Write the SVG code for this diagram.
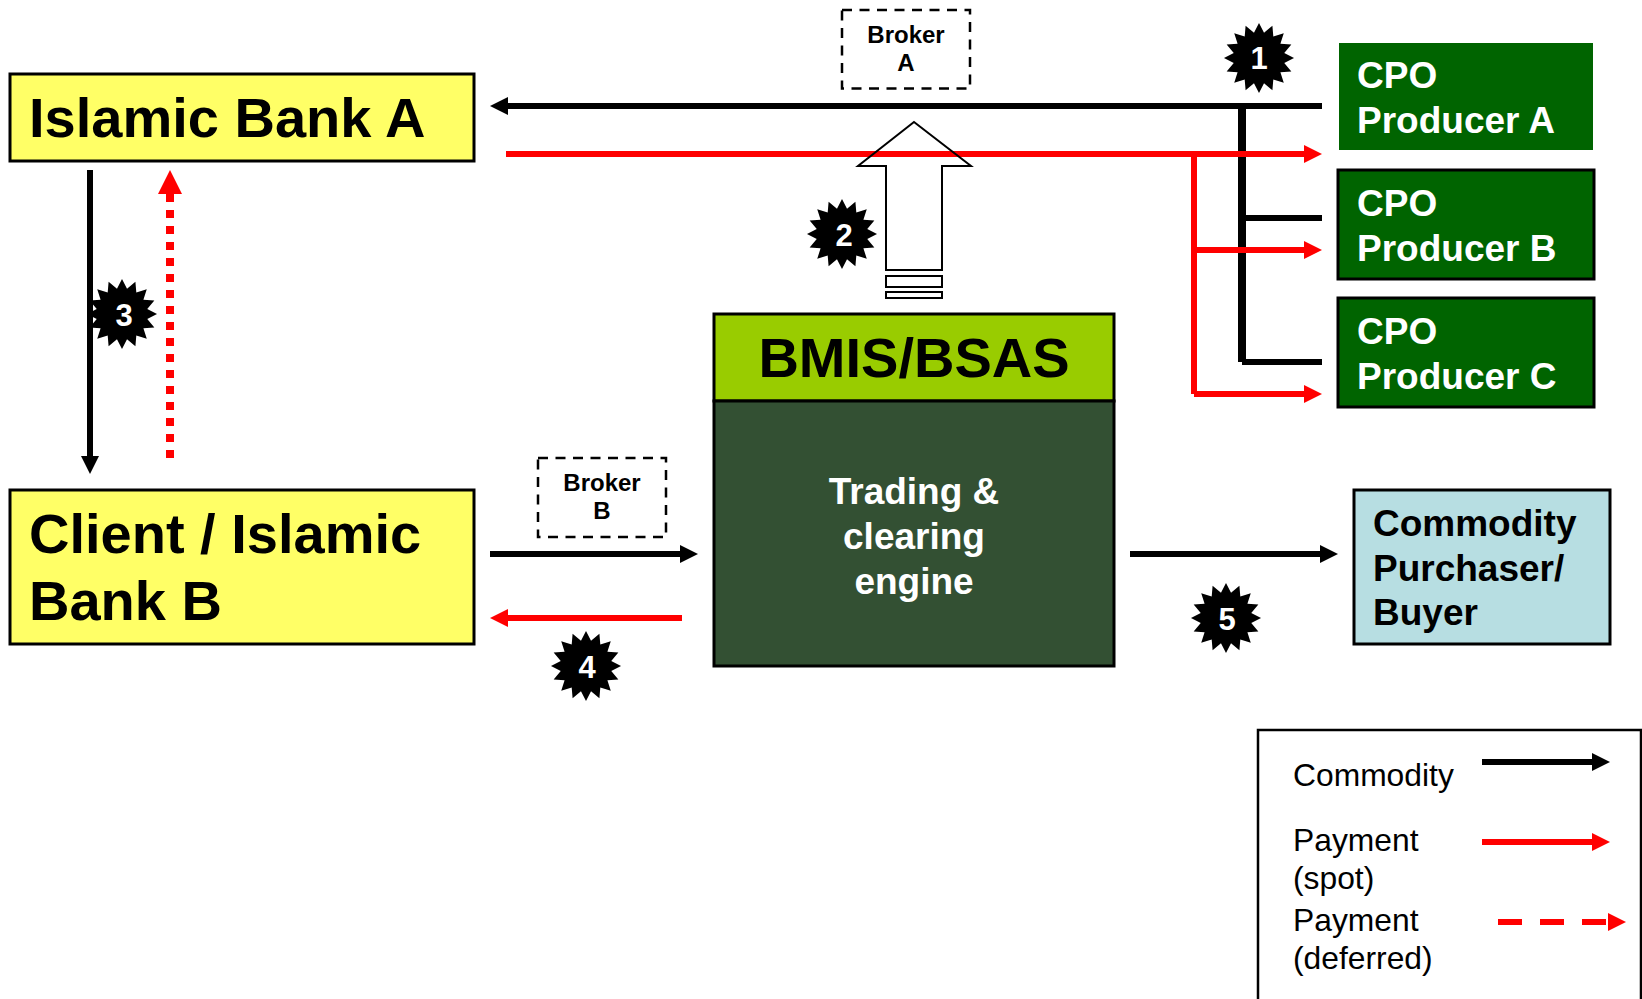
<svg xmlns="http://www.w3.org/2000/svg" width="1642" height="999" viewBox="0 0 1642 999">
<style>
text{font-family:"Liberation Sans",Arial,sans-serif;font-weight:700}
.box{stroke:#000;stroke-width:3}
.yellow{fill:#ffff66}
.green{fill:#006400}
.big{font-size:56px;fill:#000}
.mid{font-size:37px;fill:#fff}
.ink{fill:#000}
.broker{fill:none;stroke:#000;stroke-width:2.5;stroke-dasharray:10 7.5}
.bt{font-size:24px;fill:#000;text-anchor:middle}
.star{fill:#000}
.num{font-size:31px;fill:#fff;text-anchor:middle}
.k{stroke:#000;fill:none;stroke-width:6}
.r{stroke:#f00;fill:none;stroke-width:6}
.ka{marker-end:url(#headK)}
.ra{marker-end:url(#headR)}
.leg{font-size:31.8px;font-weight:400;fill:#000}
</style>
<defs>
<marker id="headK" markerUnits="userSpaceOnUse" markerWidth="18" markerHeight="18" refX="0" refY="9" orient="auto" overflow="visible"><path d="M0 0L18 9L0 18Z" fill="#000"/></marker>
<marker id="headR" markerUnits="userSpaceOnUse" markerWidth="18" markerHeight="18" refX="0" refY="9" orient="auto" overflow="visible"><path d="M0 0L18 9L0 18Z" fill="#f00"/></marker>
<marker id="headRL" markerUnits="userSpaceOnUse" markerWidth="24" markerHeight="24" refX="0" refY="12" orient="auto" overflow="visible"><path d="M0 0L24 12L0 24Z" fill="#f00"/></marker>
<polygon id="burst" transform="scale(1.03)" points="0,-34 4.88,-24.52 13.01,-31.41 13.89,-20.79 24.04,-24.04 20.79,-13.89 31.41,-13.01 24.52,-4.88 34,0 24.52,4.88 31.41,13.01 20.79,13.89 24.04,24.04 13.89,20.79 13.01,31.41 4.88,24.52 0,34 -4.88,24.52 -13.01,31.41 -13.89,20.79 -24.04,24.04 -20.79,13.89 -31.41,13.01 -24.52,4.88 -34,0 -24.52,-4.88 -31.41,-13.01 -20.79,-13.89 -24.04,-24.04 -13.89,-20.79 -13.01,-31.41 -4.88,-24.52"/>
</defs>
<g id="connectors">
<path class="k ka" d="M1322 106H508"/>
<path class="k" style="stroke-width:8" d="M1242 106V362"/>
<path class="k" d="M1242 218H1322M1242 362H1322"/>
<path class="k ka" d="M90 170V456"/>
<path class="k ka" d="M490 554H680"/>
<path class="k ka" d="M1130 554H1320"/>
<path class="r ra" d="M506 154H1304"/>
<path class="r" d="M1194 154V394"/>
<path class="r ra" d="M1194 250H1304"/>
<path class="r ra" d="M1194 394H1304"/>
<path class="r ra" d="M682 618H508"/>
<path d="M170 458V194" fill="none" stroke="#f00" stroke-width="8" stroke-dasharray="8 8" marker-end="url(#headRL)"/>
<g id="block-arrow" fill="none" stroke="#000" stroke-width="2">
<path d="M914 122L971 166H942V270H886V166H858Z"/>
<rect x="886" y="276" width="56" height="11"/>
<rect x="886" y="292" width="56" height="6"/>
</g>
</g>
<g id="islamic-bank-a"><rect class="box yellow" x="10" y="74" width="464" height="87"/><text class="big" x="29" y="137">Islamic Bank A</text></g>
<g id="client-bank-b"><rect class="box yellow" x="10" y="490" width="464" height="154"/><text class="big" x="29" y="553">Client / Islamic</text><text class="big" x="29" y="620">Bank B</text></g>
<g id="broker-a"><rect class="broker" x="842" y="10" width="128" height="78.500"/><text class="bt" x="906" y="43">Broker</text><text class="bt" x="906" y="71">A</text></g>
<g id="broker-b"><rect class="broker" x="538" y="458" width="128" height="79"/><text class="bt" x="602" y="491">Broker</text><text class="bt" x="602" y="519">B</text></g>
<g id="bmis-bsas"><rect class="box" fill="#99cc00" x="714" y="314" width="400" height="87"/><text class="big" x="914" y="377" text-anchor="middle">BMIS/BSAS</text></g>
<g id="engine"><rect class="box" fill="#335033" x="714" y="401" width="400" height="265"/><g text-anchor="middle"><text class="mid" x="914" y="504">Trading &amp;</text><text class="mid" x="914" y="549">clearing</text><text class="mid" x="914" y="594">engine</text></g></g>
<g id="producer-a"><rect class="green" x="1339" y="43" width="254" height="107"/><text class="mid" x="1357" y="88">CPO</text><text class="mid" x="1357" y="133">Producer A</text></g>
<g id="producer-b"><rect class="box green" x="1338" y="170" width="256" height="109"/><text class="mid" x="1357" y="216">CPO</text><text class="mid" x="1357" y="261">Producer B</text></g>
<g id="producer-c"><rect class="box green" x="1338" y="298" width="256" height="109"/><text class="mid" x="1357" y="344">CPO</text><text class="mid" x="1357" y="389">Producer C</text></g>
<g id="buyer"><rect class="box" fill="#b7dee2" x="1354" y="490" width="256" height="154"/><text class="mid ink" x="1373" y="536">Commodity</text><text class="mid ink" x="1373" y="581">Purchaser/</text><text class="mid ink" x="1373" y="625">Buyer</text></g>
<g id="step-1"><use class="star" href="#burst" x="1259" y="58"/><text class="num" x="1259" y="69">1</text></g>
<g id="step-2"><use class="star" href="#burst" x="842" y="234"/><text class="num" x="844" y="246">2</text></g>
<g id="step-3"><use class="star" href="#burst" x="122" y="314"/><text class="num" x="124" y="326">3</text></g>
<g id="step-4"><use class="star" href="#burst" x="586" y="666"/><text class="num" x="587" y="678">4</text></g>
<g id="step-5"><use class="star" href="#burst" x="1226" y="618"/><text class="num" x="1227" y="630">5</text></g>
<g id="legend">
<path d="M1258 999V730H1641V999" fill="none" stroke="#000" stroke-width="2.500"/>
<text class="leg" x="1293" y="786">Commodity</text>
<text class="leg" x="1293" y="851">Payment</text>
<text class="leg" x="1293" y="889">(spot)</text>
<text class="leg" x="1293" y="931">Payment</text>
<text class="leg" x="1293" y="969">(deferred)</text>
<path class="k ka" d="M1482 762H1592"/>
<path class="r ra" d="M1482 842H1592"/>
<path class="r ra" style="stroke-dasharray:24 18" d="M1498 922H1608"/>
</g>
</svg>
